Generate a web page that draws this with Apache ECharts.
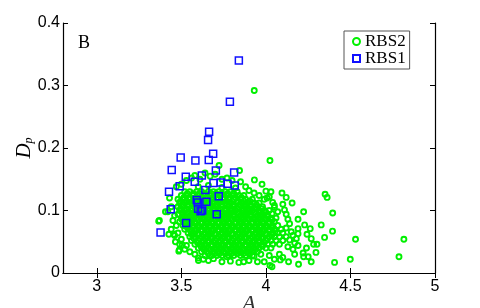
<!DOCTYPE html>
<html>
<head>
<meta charset="utf-8">
<script src="https://cdn.jsdelivr.net/npm/echarts@6/dist/echarts.min.js"></script>
<style>
  html, body { margin: 0; padding: 0; background: #fff; }
  #chart { width: 480px; height: 308px; }
</style>
</head>
<body>
<div id="chart"></div>
<script>
// tick positions
var xTicks = [3, 3.5, 4, 4.5, 5];

// RBS1 (blue squares)
var rbs1 = [
  [3.840, 0.340], [3.787, 0.274], [3.664, 0.226], [3.658, 0.213], [3.688, 0.191],
  [3.496, 0.185], [3.583, 0.180], [3.662, 0.181], [3.443, 0.165], [3.704, 0.164],
  [3.526, 0.154], [3.621, 0.156], [3.812, 0.161], [3.579, 0.146], [3.490, 0.139],
  [3.690, 0.144], [3.733, 0.145], [3.773, 0.143], [3.816, 0.140], [3.427, 0.130],
  [3.642, 0.133], [3.721, 0.123], [3.591, 0.117], [3.597, 0.113], [3.648, 0.114],
  [3.437, 0.102], [3.599, 0.103], [3.623, 0.100], [3.614, 0.099], [3.709, 0.094],
  [3.528, 0.080], [3.377, 0.065]
];

// RBS2 dense core, one row per y level: [y, [x...]]
var rbs2Core = [
  [0.130, [3.52, 3.55, 3.59, 3.62, 3.66, 3.69, 3.72, 3.76, 3.79, 3.83]],
  [0.124, [3.50, 3.53, 3.57, 3.60, 3.63, 3.67, 3.70, 3.73, 3.77, 3.80, 3.84, 3.87]],
  [0.118, [3.48, 3.51, 3.55, 3.58, 3.61, 3.65, 3.68, 3.71, 3.75, 3.78, 3.81, 3.85, 3.88, 3.92]],
  [0.112, [3.49, 3.52, 3.56, 3.59, 3.62, 3.66, 3.69, 3.72, 3.76, 3.79, 3.83, 3.86, 3.89, 3.93, 3.96]],
  [0.106, [3.48, 3.51, 3.54, 3.58, 3.61, 3.64, 3.68, 3.71, 3.74, 3.78, 3.81, 3.84, 3.88, 3.91, 3.94, 3.98]],
  [0.100, [3.49, 3.52, 3.56, 3.59, 3.62, 3.66, 3.69, 3.72, 3.76, 3.79, 3.82, 3.86, 3.89, 3.92, 3.96, 3.99, 4.02]],
  [0.094, [3.48, 3.51, 3.54, 3.58, 3.61, 3.64, 3.68, 3.71, 3.74, 3.78, 3.81, 3.84, 3.88, 3.91, 3.94, 3.98, 4.01]],
  [0.088, [3.50, 3.53, 3.56, 3.59, 3.63, 3.66, 3.69, 3.73, 3.76, 3.79, 3.83, 3.86, 3.89, 3.93, 3.96, 3.99, 4.03, 4.06]],
  [0.082, [3.49, 3.52, 3.55, 3.58, 3.62, 3.65, 3.68, 3.72, 3.75, 3.78, 3.82, 3.85, 3.88, 3.92, 3.95, 3.98, 4.02, 4.05]],
  [0.076, [3.51, 3.54, 3.57, 3.60, 3.64, 3.67, 3.70, 3.74, 3.77, 3.80, 3.84, 3.87, 3.90, 3.94, 3.97, 4.00, 4.04, 4.07]],
  [0.070, [3.52, 3.55, 3.59, 3.62, 3.65, 3.69, 3.72, 3.75, 3.79, 3.82, 3.85, 3.89, 3.92, 3.95, 3.99, 4.02, 4.05, 4.09]],
  [0.064, [3.54, 3.57, 3.60, 3.64, 3.67, 3.70, 3.74, 3.77, 3.80, 3.84, 3.87, 3.90, 3.94, 3.97, 4.00, 4.04, 4.07, 4.10]],
  [0.058, [3.55, 3.58, 3.62, 3.65, 3.68, 3.72, 3.75, 3.78, 3.82, 3.85, 3.88, 3.92, 3.95, 3.98, 4.02, 4.05, 4.08, 4.12]],
  [0.052, [3.56, 3.60, 3.63, 3.66, 3.70, 3.73, 3.76, 3.80, 3.83, 3.86, 3.90, 3.93, 3.96, 4.00, 4.03, 4.06, 4.10]],
  [0.046, [3.58, 3.61, 3.64, 3.68, 3.71, 3.74, 3.78, 3.81, 3.84, 3.88, 3.91, 3.94, 3.98, 4.01, 4.04, 4.08]],
  [0.040, [3.60, 3.63, 3.66, 3.70, 3.73, 3.76, 3.80, 3.83, 3.86, 3.90, 3.93, 3.96, 4.00, 4.03]],
  [0.034, [3.62, 3.65, 3.69, 3.72, 3.75, 3.79, 3.82, 3.85, 3.89, 3.92, 3.95]],
  [0.028, [3.64, 3.68, 3.71, 3.74, 3.78, 3.81, 3.85, 3.88, 3.92]]
];

// RBS2 in-between rows filling the solid part of the cloud
var rbs2Core2 = [
  [0.127, [3.535, 3.57, 3.605, 3.64, 3.675, 3.705, 3.74, 3.775, 3.81]],
  [0.121, [3.515, 3.55, 3.585, 3.615, 3.65, 3.685, 3.715, 3.75, 3.785, 3.82, 3.855]],
  [0.115, [3.495, 3.53, 3.565, 3.595, 3.63, 3.665, 3.695, 3.73, 3.765, 3.80, 3.835, 3.87, 3.905]],
  [0.109, [3.505, 3.535, 3.57, 3.605, 3.635, 3.67, 3.705, 3.735, 3.77, 3.805, 3.845, 3.875, 3.91, 3.945]],
  [0.103, [3.495, 3.53, 3.565, 3.595, 3.63, 3.665, 3.695, 3.73, 3.765, 3.80, 3.835, 3.87, 3.905, 3.94, 3.975]],
  [0.097, [3.505, 3.535, 3.57, 3.605, 3.635, 3.67, 3.705, 3.735, 3.77, 3.805, 3.835, 3.87, 3.905, 3.935, 3.97, 4.00]],
  [0.091, [3.515, 3.545, 3.575, 3.61, 3.645, 3.675, 3.71, 3.745, 3.775, 3.81, 3.845, 3.875, 3.91, 3.945, 3.975, 4.01]],
  [0.085, [3.505, 3.535, 3.565, 3.60, 3.635, 3.665, 3.70, 3.735, 3.765, 3.80, 3.835, 3.865, 3.90, 3.935, 3.965, 4.00, 4.035]],
  [0.079, [3.525, 3.555, 3.585, 3.62, 3.655, 3.685, 3.72, 3.755, 3.785, 3.82, 3.855, 3.885, 3.92, 3.955, 3.985, 4.02]],
  [0.073, [3.535, 3.565, 3.60, 3.635, 3.665, 3.70, 3.735, 3.765, 3.80, 3.835, 3.865, 3.90, 3.935, 3.965, 4.00, 4.035]],
  [0.067, [3.555, 3.585, 3.62, 3.655, 3.685, 3.72, 3.755, 3.785, 3.82, 3.855, 3.885, 3.92, 3.955, 3.985, 4.02, 4.055]],
  [0.061, [3.565, 3.60, 3.635, 3.665, 3.70, 3.735, 3.765, 3.80, 3.835, 3.865, 3.90, 3.935, 3.965, 4.00, 4.035]],
  [0.055, [3.575, 3.61, 3.645, 3.675, 3.71, 3.745, 3.775, 3.81, 3.845, 3.875, 3.91, 3.945, 3.975, 4.01]],
  [0.049, [3.595, 3.625, 3.66, 3.695, 3.725, 3.76, 3.795, 3.825, 3.86, 3.895, 3.925, 3.96, 3.99]],
  [0.043, [3.615, 3.645, 3.68, 3.715, 3.745, 3.78, 3.815, 3.845, 3.88, 3.915, 3.945, 3.98]],
  [0.037, [3.635, 3.67, 3.705, 3.735, 3.77, 3.805, 3.835, 3.87, 3.905, 3.935]],
  [0.031, [3.66, 3.695, 3.725, 3.76, 3.795, 3.83, 3.865, 3.90]]
];

// RBS2 points around the core and outliers
var rbs2Edge = [
  [3.43, 0.120], [3.42, 0.098], [3.44, 0.106], [3.46, 0.092], [3.45, 0.084], [3.47, 0.076],
  [3.44, 0.070], [3.48, 0.064], [3.46, 0.060], [3.50, 0.054], [3.49, 0.046], [3.53, 0.044],
  [3.52, 0.038], [3.55, 0.034], [3.58, 0.030], [3.60, 0.024], [3.63, 0.022], [3.366, 0.083],
  [3.406, 0.098], [3.485, 0.035], [3.465, 0.050], [3.426, 0.062], [3.455, 0.062], [3.505, 0.045],
  [3.47, 0.138], [3.50, 0.142], [3.53, 0.148], [3.56, 0.152], [3.58, 0.156], [3.61, 0.150],
  [3.64, 0.160], [3.67, 0.155], [3.70, 0.158], [3.723, 0.172], [3.74, 0.150], [3.77, 0.152],
  [3.80, 0.148], [3.844, 0.164], [3.85, 0.146], [3.88, 0.138], [3.90, 0.132], [3.93, 0.128],
  [3.60, 0.138], [3.66, 0.140], [3.74, 0.137], [3.82, 0.136],
  [3.96, 0.124], [3.99, 0.118], [4.00, 0.131], [4.02, 0.122], [4.04, 0.113], [4.05, 0.105],
  [4.07, 0.098], [4.095, 0.128], [4.12, 0.121], [4.10, 0.110], [4.11, 0.101], [4.12, 0.094],
  [4.13, 0.086], [4.14, 0.079], [4.12, 0.072], [4.15, 0.066], [4.16, 0.060], [4.14, 0.053],
  [4.17, 0.048], [4.13, 0.042], [4.16, 0.038], [4.19, 0.044], [4.18, 0.055], [4.19, 0.086],
  [4.229, 0.077], [4.262, 0.071], [4.19, 0.071], [4.19, 0.063], [4.243, 0.062], [4.268, 0.055],
  [4.282, 0.046], [4.302, 0.046], [4.296, 0.033], [4.24, 0.040], [4.22, 0.032], [4.25, 0.026],
  [4.268, 0.018], [4.193, 0.014], [4.134, 0.018], [4.085, 0.021], [4.223, 0.026], [4.17, 0.030],
  [3.66, 0.020], [3.69, 0.023], [3.74, 0.018], [3.77, 0.026], [3.79, 0.019], [3.84, 0.017],
  [3.869, 0.018], [3.90, 0.020], [3.93, 0.027], [3.95, 0.018], [3.97, 0.030], [3.99, 0.018],
  [4.02, 0.028], [4.05, 0.022], [4.08, 0.030], [4.10, 0.025], [4.036, 0.010], [4.024, 0.012],
  [3.932, 0.149], [3.977, 0.142], [4.03, 0.130], [4.007, 0.120], [4.05, 0.108], [4.036, 0.095],
  [3.931, 0.292], [4.024, 0.180], [4.350, 0.126], [4.362, 0.121], [4.155, 0.112], [4.223, 0.098],
  [4.395, 0.096], [4.327, 0.077], [4.394, 0.067], [4.347, 0.057], [4.530, 0.054], [4.816, 0.054],
  [4.499, 0.022], [4.787, 0.026], [4.406, 0.017], [3.601, 0.020], [3.488, 0.037], [3.370, 0.084]
];

var rbs2 = [];
rbs2Core.concat(rbs2Core2).forEach(function (row) {
  row[1].forEach(function (x) { rbs2.push([x, row[0]]); });
});
rbs2 = rbs2.concat(rbs2Edge);

var chart = echarts.init(document.getElementById('chart'));
var font = 'Liberation Sans';
var serif = 'Liberation Serif';

var option = {
  animation: false,
  grid: { left: 63, right: 45, top: 23, bottom: 35, outerBoundsMode: 'none' },
  legend: {
    orient: 'vertical',
    left: 344, top: 31,
    padding: [2, 4, 2, 8],
    itemGap: 0,
    itemWidth: 7, itemHeight: 7,
    borderColor: '#555', borderWidth: 1,
    backgroundColor: '#fff',
    textStyle: { fontFamily: serif, fontSize: 17, lineHeight: 14, color: '#000' },
    data: ['RBS2', 'RBS1']
  },
  graphic: [{
    type: 'text', left: 78, top: 34,
    style: { text: 'B', font: '18px "Liberation Serif"', fill: '#000' }
  }],
  xAxis: [{
    type: 'value', min: 2.8, max: 5,
    name: 'A', nameLocation: 'middle', nameGap: 20, nameMoveOverlap: false,
    nameTextStyle: { fontFamily: serif, fontStyle: 'italic', fontSize: 22, color: '#333', verticalAlign: 'top' },
    axisLine: { lineStyle: { color: '#000', width: 1.2 } },
    axisTick: { inside: true, length: 5, customValues: xTicks, lineStyle: { color: '#000' } },
    axisLabel: { customValues: xTicks, margin: 6, fontFamily: font, fontSize: 16, color: '#000' },
    splitLine: { show: false }
  }, {
    type: 'value', min: 2.8, max: 5, position: 'top',
    axisLine: { lineStyle: { color: '#000', width: 1.2 } },
    axisTick: { inside: true, length: 5, customValues: xTicks, lineStyle: { color: '#000' } },
    axisLabel: { show: false },
    splitLine: { show: false }
  }],
  yAxis: [{
    type: 'value', min: 0, max: 0.4, interval: 0.1,
    name: '{d|D}{p|p}', nameLocation: 'middle', nameGap: 28, nameRotate: 90, nameMoveOverlap: false,
    nameTextStyle: {
      rich: {
        d: { fontFamily: serif, fontStyle: 'italic', fontSize: 21, color: '#000' },
        p: { fontFamily: serif, fontStyle: 'italic', fontSize: 12, color: '#000', padding: [10, 0, 0, 0] }
      }
    },
    axisLine: { lineStyle: { color: '#000', width: 1.2 } },
    axisTick: { inside: true, length: 5, lineStyle: { color: '#000' } },
    axisLabel: { margin: 3, fontFamily: font, fontSize: 16, color: '#000' },
    splitLine: { show: false }
  }, {
    type: 'value', min: 0, max: 0.4, interval: 0.1, position: 'right',
    axisLine: { lineStyle: { color: '#000', width: 1.2 } },
    axisTick: { inside: true, length: 5, lineStyle: { color: '#000' } },
    axisLabel: { show: false },
    splitLine: { show: false }
  }],
  series: [{
    name: 'RBS2', type: 'scatter',
    symbol: 'circle', symbolSize: 5,
    itemStyle: { color: 'rgba(0,0,0,0)', borderColor: '#00f000', borderWidth: 1.9, opacity: 1 },
    data: rbs2
  }, {
    name: 'RBS1', type: 'scatter',
    symbol: 'rect', symbolSize: 7,
    itemStyle: { color: 'rgba(0,0,0,0)', borderColor: '#1010ff', borderWidth: 1.5, opacity: 1 },
    data: rbs1
  }]
};
chart.setOption(option);
</script>
</body>
</html>
